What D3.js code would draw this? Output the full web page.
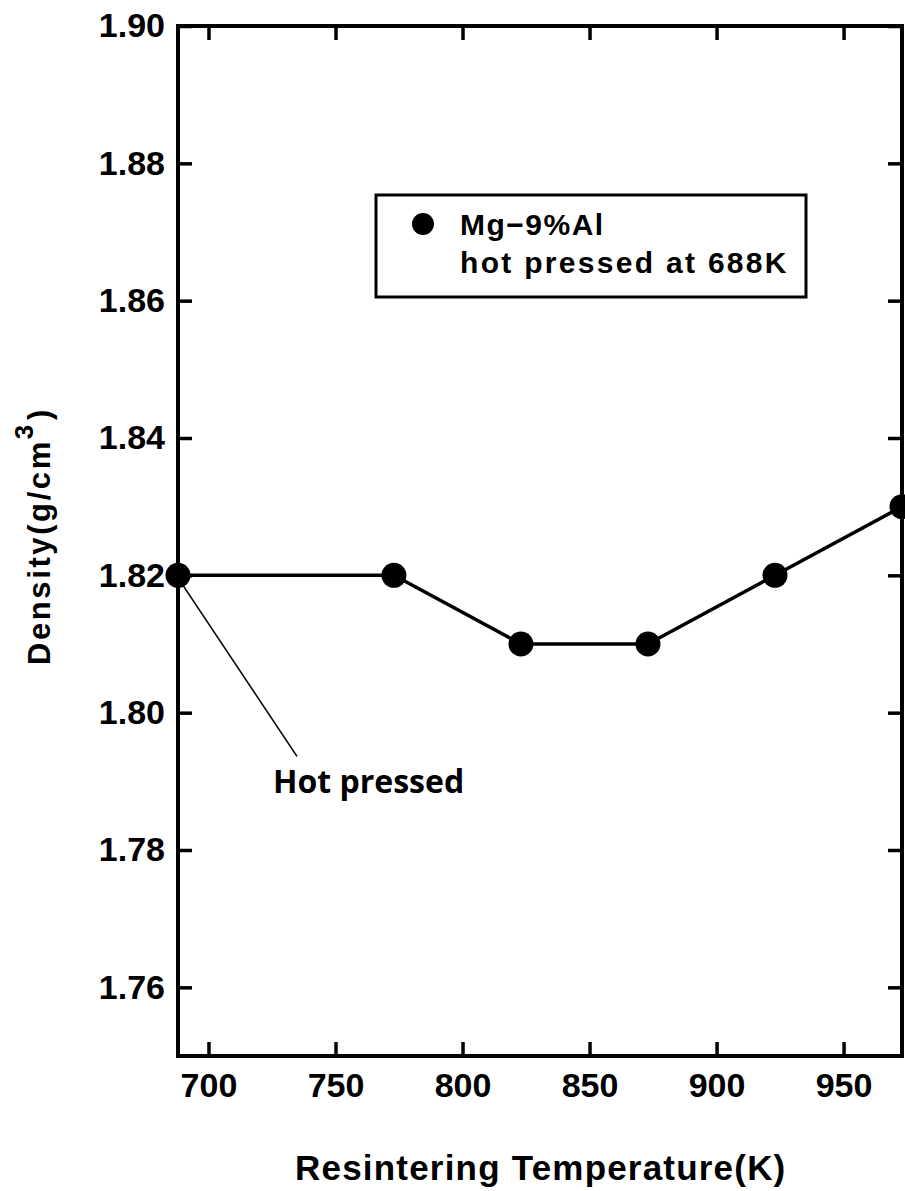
<!DOCTYPE html>
<html>
<head>
<meta charset="utf-8">
<script src="https://cdn.jsdelivr.net/npm/d3@7"></script>
<style>
  html, body { margin: 0; padding: 0; background: #fff; }
  svg { display: block; }
</style>
</head>
<body>
<div id="chart"></div>
<script>
// ---- data ----
const temperatures = [688, 773, 823, 873, 923, 973];
const densities = [1.82, 1.82, 1.81, 1.81, 1.82, 1.83];
const xTicks = [700, 750, 800, 850, 900, 950];
const yTicks = [1.76, 1.78, 1.80, 1.82, 1.84, 1.86, 1.88, 1.90];
const xDomain = [688, 973];
const yDomain = [1.75, 1.90];
const seriesLabel = "Mg\u22129%Al";
const seriesNote = "hot pressed at 688K";
const annotationText = "Hot pressed";
const xTitle = "Resintering Temperature(K)";

// ---- layout ----
const W = 905, H = 1191;
const L = 178, R = 902, T = 26, B = 1056;

const svg = d3.select("#chart").append("svg")
  .attr("width", W).attr("height", H);

const x = d3.scaleLinear().domain(xDomain).range([L, R]);
const y = d3.scaleLinear().domain(yDomain).range([B, T]);

const tickFont = "'Liberation Sans', Arial, sans-serif";

function styleAxis(g) {
  g.select(".domain").remove();
  g.selectAll(".tick line").attr("stroke", "#000").attr("stroke-width", 3.5);
  g.selectAll(".tick text")
    .attr("fill", "#000")
    .style("font-family", tickFont)
    .style("font-weight", "bold")
    .style("font-size", "34px");
}

// bottom axis
svg.append("g").attr("transform", `translate(0,${B})`)
  .call(d3.axisBottom(x).tickValues(xTicks).tickSize(-14).tickPadding(17).tickFormat(d3.format("d")))
  .call(styleAxis);
// top axis
svg.append("g").attr("transform", `translate(0,${T})`)
  .call(d3.axisTop(x).tickValues(xTicks).tickSize(-14).tickFormat(""))
  .call(styleAxis);
// left axis
svg.append("g").attr("transform", `translate(${L},0)`)
  .call(d3.axisLeft(y).tickValues(yTicks).tickSize(-14).tickPadding(13).tickFormat(d3.format(".2f")))
  .call(styleAxis);
// right axis
svg.append("g").attr("transform", `translate(${R},0)`)
  .call(d3.axisRight(y).tickValues(yTicks).tickSize(-14).tickFormat(""))
  .call(styleAxis);

// frame
svg.append("rect")
  .attr("x", L).attr("y", T).attr("width", R - L).attr("height", B - T)
  .attr("fill", "none").attr("stroke", "#000").attr("stroke-width", 4);

// data line
const pts = temperatures.map((t, i) => [t, densities[i]]);
svg.append("path")
  .datum(pts)
  .attr("fill", "none").attr("stroke", "#000").attr("stroke-width", 3.5)
  .attr("stroke-linejoin", "round")
  .attr("d", d3.line().x(d => x(d[0])).y(d => y(d[1])));

// annotation leader line (from first point down to label)
const p0 = pts[0];
svg.append("line")
  .attr("x1", x(p0[0]) + 5).attr("y1", y(p0[1]) + 10)
  .attr("x2", x(p0[0]) + 119).attr("y2", y(p0[1]) + 181)
  .attr("stroke", "#000").attr("stroke-width", 1.6);

// markers
svg.append("g").selectAll("circle").data(pts).join("circle")
  .attr("cx", d => x(d[0])).attr("cy", d => y(d[1]))
  .attr("r", 12.5).attr("fill", "#000");

// annotation text
svg.append("text")
  .attr("x", 273).attr("y", 793)
  .style("font-family", "'Open Sans', sans-serif")
  .style("font-weight", "bold")
  .style("font-size", "32px")
  .attr("fill", "#000")
  .text(annotationText);

// legend
const lg = svg.append("g");
lg.append("rect")
  .attr("x", 376).attr("y", 195).attr("width", 430).attr("height", 102)
  .attr("fill", "#fff").attr("stroke", "#000").attr("stroke-width", 3);
lg.append("circle").attr("cx", 423).attr("cy", 224).attr("r", 11).attr("fill", "#000");
lg.append("text").attr("x", 460).attr("y", 235)
  .style("font-family", tickFont).style("font-weight", "bold")
  .style("font-size", "30px").style("letter-spacing", "1.5px")
  .attr("fill", "#000").text(seriesLabel);
lg.append("text").attr("x", 460).attr("y", 273)
  .style("font-family", tickFont).style("font-weight", "bold")
  .style("font-size", "30px").style("letter-spacing", "2.3px")
  .attr("fill", "#000").text(seriesNote);

// x title
svg.append("text")
  .attr("x", 295).attr("y", 1180)
  .style("font-family", tickFont).style("font-weight", "bold")
  .style("font-size", "35px").style("letter-spacing", "1.2px")
  .attr("fill", "#000").text(xTitle);

// y title
const yt = svg.append("text")
  .attr("transform", "translate(50,665) rotate(-90)")
  .style("font-family", tickFont).style("font-weight", "bold")
  .style("font-size", "31px").style("letter-spacing", "2.6px")
  .attr("fill", "#000");
yt.append("tspan").text("Density(g/cm");
yt.append("tspan").attr("dy", -17).style("font-size", "26px").text("3");
yt.append("tspan").attr("dy", 17).attr("dx", 2).text(")");
</script>
</body>
</html>
